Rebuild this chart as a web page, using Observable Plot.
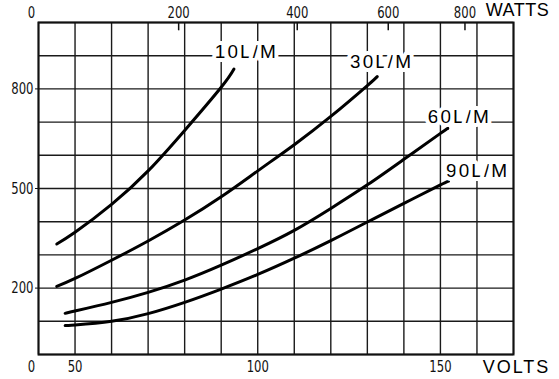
<!DOCTYPE html>
<html><head><meta charset="utf-8">
<script src="https://cdn.jsdelivr.net/npm/d3@7"></script>
<script src="https://cdn.jsdelivr.net/npm/@observablehq/plot@0.6"></script>
<style>
html,body{margin:0;padding:0;background:#fff;}
</style>
</head><body><div id="chart"></div>
<script>
// Series: x = volts, y = left-axis value
const seriesNames = ["10L/M", "30L/M", "60L/M", "90L/M"];
const volts10 = [45, 50, 60, 70, 80, 90, 93.5];
const load10  = [333, 368, 452, 553, 675, 805, 860];
const volts30 = [45, 50, 60, 70, 80, 90, 100, 110, 120, 130, 132.7];
const load30  = [205, 229, 284, 342, 405, 475, 553, 632, 717, 810, 837];
const volts60 = [47.3, 50, 60, 70, 80, 90, 100, 110, 120, 130, 140, 150, 152];
const load60  = [124, 131, 157, 187, 224, 269, 319, 374, 440, 511, 588, 666, 681];
const volts90 = [47.3, 50, 60, 70, 80, 90, 100, 110, 120, 130, 140, 150, 152.2];
const load90  = [87, 89, 100, 123, 157, 197, 241, 290, 343, 399, 455, 511, 522];

// Tick labels
const voltTicks = [50, 100, 150];
const wattTicks = [200, 400, 600, 800];
const loadTicks = [200, 500, 800];
const ohms = 30.7; // watts = volts^2 / ohms (top scale)

// Curve label anchors
const labelVolts = [96.6, 133.6, 154.9, 159.9];
const labelLoad  = [910, 880, 717, 554];

const xs = [volts10, volts30, volts60, volts90];
const ys = [load10, load30, load60, load90];
const rows = [];
seriesNames.forEach((s, k) => xs[k].forEach((v, i) => rows.push({s, v, p: ys[k][i]})));
const labels = seriesNames.map((s, k) => ({s, v: labelVolts[k], p: labelLoad[k]}));

const gridV = d3.range(40, 171, 10);
const gridY = d3.range(0, 1001, 100);
const wattPos = wattTicks.map(w => Math.sqrt(w * ohms));

const narrow = '"DejaVu Sans Condensed","DejaVu Sans",sans-serif';
const wide = '"Liberation Sans",Arial,sans-serif';

const chart = Plot.plot({
  width: 559, height: 379,
  marginLeft: 38, marginRight: 46, marginTop: 22, marginBottom: 25,
  x: {domain: [40, 170], label: null},
  y: {domain: [0, 1000], label: null},
  style: {fontFamily: narrow, fontSize: "16px", color: "#111", background: "#fff"},
  marks: [
    Plot.ruleX(gridV, {stroke: "#1a1a1a", strokeWidth: 1.4}),
    Plot.ruleY(gridY, {stroke: "#1a1a1a", strokeWidth: 1.4}),
    Plot.frame({stroke: "#111", strokeWidth: 2}),
    Plot.ruleX(wattPos, {y1: 1000, y2: 975, stroke: "#111", strokeWidth: 1.5}),
    Plot.axisX(voltTicks, {anchor: "bottom", tickSize: 0, tickPadding: 6, label: null}),
    Plot.axisX([40], {anchor: "bottom", tickSize: 0, tickPadding: 6, tickFormat: () => "0", dx: -7, label: null}),
    Plot.axisX(wattPos, {anchor: "top", tickSize: 0, tickPadding: 5, tickFormat: d => String(Math.round(d * d / ohms)), label: null}),
    Plot.axisX([40], {anchor: "top", tickSize: 0, tickPadding: 5, tickFormat: () => "0", dx: -7, label: null}),
    Plot.axisY(loadTicks, {anchor: "left", tickSize: 3, tickPadding: 2, label: null}),
    Plot.line(rows, {x: "v", y: "p", z: "s", curve: "natural", stroke: "#000", strokeWidth: 3}),
    Plot.text(labels, {x: "v", y: "p", text: "s", fontSize: 19, fontFamily: wide, fill: "#000", stroke: "#fff", strokeWidth: 8}),
    Plot.text(["VOLTS"], {text: d => d, frameAnchor: "bottom-right", textAnchor: "middle", lineAnchor: "middle", dx: 3, dy: 13, fontFamily: wide, fontSize: 18, fill: "#000"}),
    Plot.text(["WATTS"], {text: d => d, frameAnchor: "top-right", textAnchor: "middle", lineAnchor: "middle", dx: 4, dy: -12, fontFamily: wide, fontSize: 18, fill: "#000"})
  ]
});
document.getElementById("chart").appendChild(chart);
d3.select(chart).selectAll("text").each(function() {
  const t = this.textContent;
  if (/L\/M$/.test(t)) { this.setAttribute("textLength", "61"); this.setAttribute("lengthAdjust", "spacing"); }
  else if (t === "VOLTS") this.setAttribute("letter-spacing", "2");
  else if (t === "WATTS") this.setAttribute("letter-spacing", "0.5");
  else if (/^\d+$/.test(t)) { this.setAttribute("textLength", String(7.4 * t.length)); this.setAttribute("lengthAdjust", "spacingAndGlyphs"); }
});
</script>
</body></html>
